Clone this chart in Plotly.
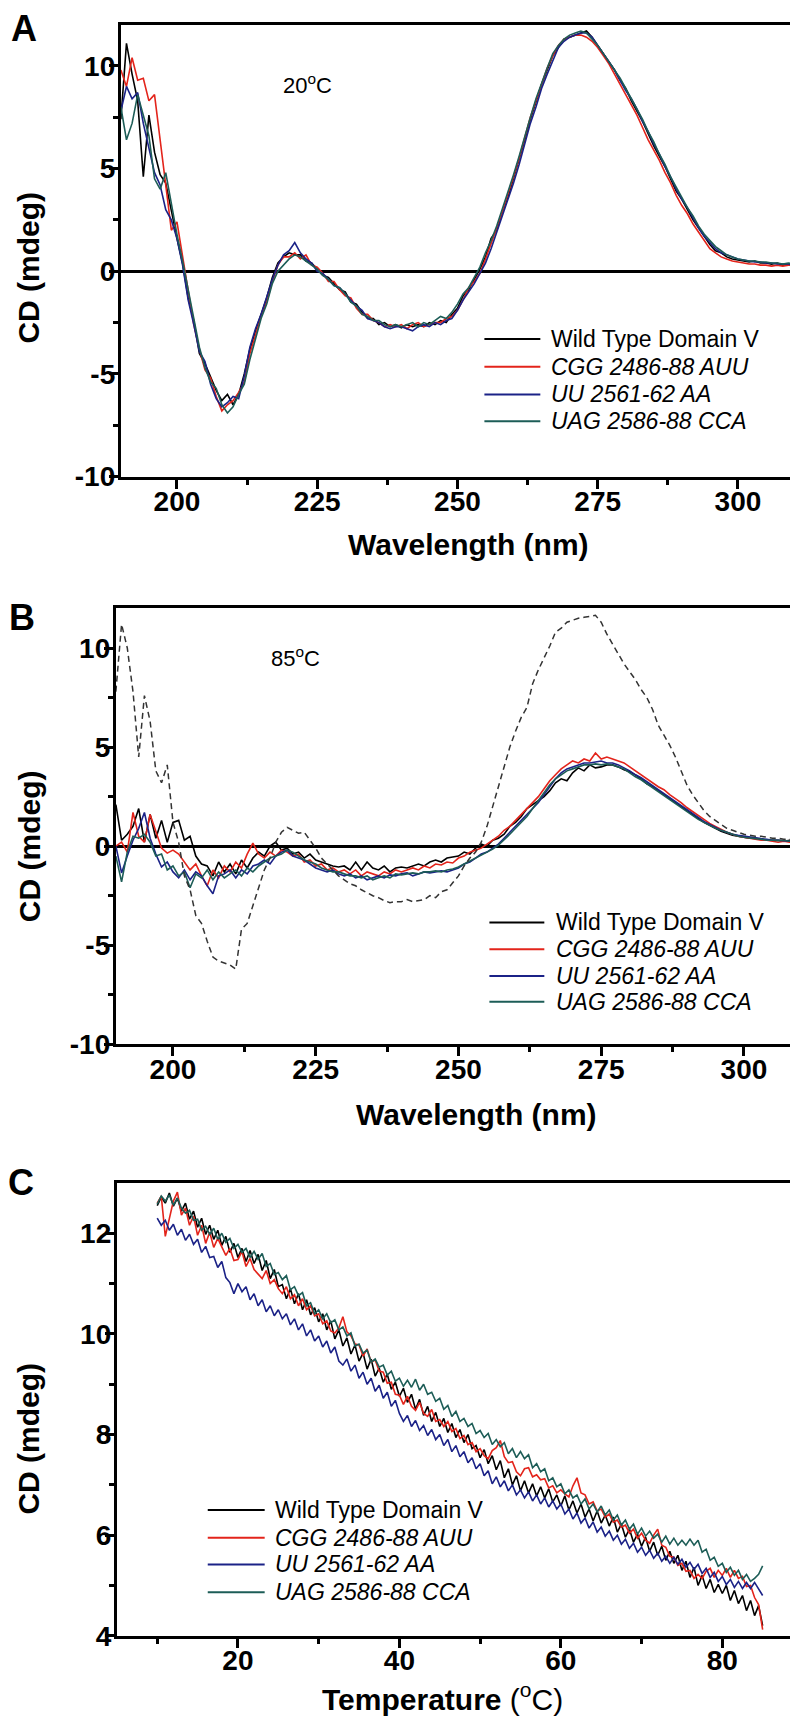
import plotly.graph_objects as go

# ---------------- DATA ----------------
wavelength = list(range(190, 311))          # nm, panels A and B
temperature = [10 + 0.5 * i for i in range(151)]  # degC grid, panel C

names = ["Wild Type Domain V", "<i>CGG 2486-88 AUU</i>", "<i>UU 2561-62 AA</i>", "<i>UAG 2586-88 CCA</i>"]
colors = ["#000000", "#e3241b", "#1b2287", "#1d5d57"]

wl_ticks = [200, 225, 250, 275, 300]
wl_minor = [212.5, 237.5, 262.5, 287.5]
cd_ticks = [-10, -5, 0, 5, 10]
cd_ticktext = ["-10", "-5", "0", "5", "10"]
cd_minor = [-7.5, -2.5, 2.5, 7.5]
t_ticks = [20, 40, 60, 80]
t_minor = [10, 30, 50, 70]
c_ticks = [4, 6, 8, 10, 12]
c_minor = [5, 7, 9, 11]

# Panel A (20 C)
a_wt = [7.4, 11.1, 9.6, 8.3, 4.6, 7.6, 5.8, 4.7, 4.3, 2.9,
        1.6, 0.4, -1.3, -2.4, -4.0, -4.5, -5.2, -5.8, -6.3, -6.0,
        -6.5, -6.0, -5.0, -3.8, -2.9, -2.1, -1.3, -0.3, 0.4, 0.7,
        0.9, 0.8, 0.8, 0.5, 0.4, 0.1, -0.2, -0.3, -0.6, -0.9,
        -1.0, -1.5, -1.6, -2.0, -2.3, -2.3, -2.6, -2.5, -2.7, -2.6,
        -2.75, -2.6, -2.7, -2.6, -2.7, -2.5, -2.6, -2.4, -2.5, -2.1,
        -1.8, -1.2, -0.9, -0.4, 0.1, 0.7, 1.6, 2.0, 2.9, 3.6,
        4.5, 5.4, 6.4, 7.4, 8.3, 9.1, 9.8, 10.5, 10.9, 11.3,
        11.4, 11.5, 11.6, 11.7, 11.4, 11.0, 10.6, 10.2, 9.8, 9.3,
        8.9, 8.3, 7.8, 7.3, 6.7, 6.1, 5.6, 5.1, 4.5, 3.9,
        3.5, 3.0, 2.5, 2.1, 1.7, 1.3, 1.0, 0.9, 0.7, 0.6,
        0.55, 0.5, 0.45, 0.5, 0.4, 0.4, 0.35, 0.4, 0.3, 0.3, 0.3]
a_cgg = [9.8, 9.0, 10.4, 9.3, 9.4, 8.3, 8.6, 6.4, 4.1, 2.0,
         2.4, 0.8, -0.8, -2.6, -3.8, -4.8, -5.2, -6.1, -6.8, -6.5,
         -6.3, -5.9, -5.4, -4.0, -3.1, -2.2, -1.5, -0.5, 0.3, 0.7,
         0.7, 0.9, 0.6, 0.8, 0.3, 0.2, -0.1, -0.5, -0.5, -0.9,
         -1.2, -1.3, -1.8, -2.1, -2.1, -2.4, -2.5, -2.7, -2.6, -2.7,
         -2.6, -2.8, -2.6, -2.5, -2.7, -2.6, -2.5, -2.5, -2.3, -2.2,
         -1.9, -1.4, -0.8, -0.5, -0.1, 0.6, 1.3, 2.1, 2.9, 3.7,
         4.6, 5.5, 6.5, 7.5, 8.3, 9.1, 9.9, 10.5, 11.0, 11.3,
         11.4, 11.5, 11.5, 11.4, 11.2, 10.9, 10.5, 10.1, 9.6, 9.1,
         8.6, 8.1, 7.6, 7.0, 6.4, 5.9, 5.4, 4.8, 4.3, 3.7,
         3.2, 2.8, 2.3, 1.9, 1.5, 1.1, 0.9, 0.7, 0.6, 0.5,
         0.45, 0.4, 0.35, 0.35, 0.3, 0.3, 0.25, 0.3, 0.25, 0.3, 0.3]
a_uu = [7.8, 9.0, 8.4, 8.7, 7.2, 6.0, 4.8, 4.2, 3.0, 2.5,
        1.6, 0.3, -1.4, -2.6, -3.9, -4.4, -5.5, -6.2, -6.6, -6.4,
        -6.1, -6.2, -5.1, -3.7, -2.8, -2.1, -1.2, -0.4, 0.3, 0.8,
        1.0, 1.4, 0.9, 0.6, 0.4, 0.0, -0.1, -0.4, -0.7, -0.8,
        -1.1, -1.4, -1.7, -1.9, -2.3, -2.4, -2.5, -2.7, -2.8, -2.7,
        -2.7, -2.8, -2.9, -2.7, -2.6, -2.7, -2.5, -2.6, -2.4, -2.3,
        -1.9, -1.4, -1.0, -0.6, -0.1, 0.4, 1.1, 1.9, 2.6, 3.4,
        4.3, 5.2, 6.2, 7.2, 8.0, 8.9, 9.6, 10.3, 10.9, 11.2,
        11.4, 11.5, 11.6, 11.6, 11.4, 11.0, 10.6, 10.2, 9.8, 9.3,
        8.8, 8.4, 7.9, 7.3, 6.8, 6.2, 5.7, 5.1, 4.6, 4.0,
        3.5, 3.1, 2.6, 2.1, 1.7, 1.4, 1.1, 0.9, 0.8, 0.7,
        0.6, 0.55, 0.5, 0.45, 0.45, 0.4, 0.4, 0.35, 0.35, 0.35, 0.3]
a_uag = [8.0, 6.4, 7.2, 8.6, 7.6, 6.6, 4.5, 4.0, 4.8, 3.2,
         1.8, 0.5, -1.0, -2.3, -3.7, -4.7, -5.4, -5.7, -6.5, -6.9,
         -6.6, -6.0, -5.5, -4.3, -3.3, -2.3, -1.6, -0.6, 0.0, 0.3,
         0.6, 0.8, 0.7, 0.5, 0.3, 0.1, -0.2, -0.4, -0.7, -0.8,
         -1.1, -1.5, -1.7, -2.1, -2.2, -2.4, -2.4, -2.6, -2.7, -2.6,
         -2.7, -2.6, -2.5, -2.7, -2.5, -2.6, -2.4, -2.2, -2.3, -2.0,
         -1.6, -1.1, -0.8, -0.3, 0.2, 0.9, 1.5, 2.2, 3.0, 3.8,
         4.7, 5.6, 6.6, 7.5, 8.4, 9.2, 9.9, 10.6, 11.0, 11.3,
         11.5, 11.6, 11.7, 11.6, 11.3, 11.0, 10.6, 10.2, 9.8, 9.4,
         8.9, 8.4, 7.9, 7.4, 6.8, 6.3, 5.7, 5.2, 4.6, 4.1,
         3.6, 3.1, 2.7, 2.2, 1.8, 1.5, 1.2, 1.0, 0.8, 0.7,
         0.6, 0.55, 0.5, 0.5, 0.45, 0.45, 0.4, 0.4, 0.35, 0.4, 0.35]

# Panel B (85 C) + dashed wild type at 20 C
b_wt = [2.1, 0.3, 0.6, 1.0, 1.9, 0.2, 1.6, 0.4, 1.3, 0.2,
        1.2, 1.3, 0.3, 0.5, -0.5, -0.9, -1.0, -1.5, -0.8, -1.3,
        -0.9, -1.4, -0.7, -1.1, -0.6, -0.3, -0.5, 0.0, 0.2, -0.2,
        -0.1, -0.4, -0.3, -0.6, -0.4, -0.7, -0.8, -0.9, -1.0, -1.05,
        -1.0, -1.2, -0.8, -1.2, -0.8, -1.1, -1.2, -1.0, -1.3, -1.1,
        -1.05, -1.1, -1.0, -0.9, -1.0, -0.8, -0.7, -0.8, -0.6, -0.55,
        -0.5, -0.3, -0.4, -0.1, 0.1, 0.0, 0.3, 0.4, 0.6, 1.0,
        1.2, 1.5, 1.9, 2.1, 2.3, 2.5, 2.8, 3.2, 3.4, 3.3,
        3.7, 3.95, 3.8, 4.1, 3.95, 4.0, 4.1, 4.1, 4.0, 3.85,
        3.75, 3.6, 3.4, 3.15, 3.0, 2.8, 2.6, 2.4, 2.2, 2.0,
        1.8, 1.6, 1.4, 1.2, 1.05, 0.9, 0.75, 0.65, 0.55, 0.5,
        0.45, 0.4, 0.4, 0.35, 0.3, 0.3, 0.3, 0.25, 0.3, 0.25, 0.25]
b_cgg = [0.0, 0.2, -0.3, 1.7, 0.5, 0.2, 1.6, 0.8, -0.1, -0.35,
         -0.2, -0.4, -0.8, -1.2, -0.9, -1.5, -2.0, -1.2, -1.6, -1.0,
         -1.3, -0.8, -1.1, -0.4, 0.15, -0.4, -0.6, -0.3, -0.5, -0.2,
         -0.3, -0.5, -0.4, -0.8, -0.7, -1.0, -0.9, -1.2, -1.1, -1.3,
         -1.2, -1.4, -1.2, -1.5, -1.3, -1.4, -1.5, -1.3, -1.4, -1.2,
         -1.3, -1.2, -1.1, -1.2, -1.0, -1.1, -0.9, -0.95, -0.8, -0.85,
         -0.6, -0.5, -0.3, -0.2, -0.1, 0.1, 0.3, 0.5, 0.8, 1.0,
         1.3, 1.6, 1.9, 2.2, 2.5, 2.9, 3.3, 3.6, 3.9, 4.1,
         4.3, 4.2, 4.4, 4.3, 4.7, 4.4, 4.5, 4.4, 4.3, 4.2,
         4.0, 3.8, 3.6, 3.4, 3.2, 3.0, 2.85, 2.6, 2.4, 2.2,
         1.95, 1.75, 1.55, 1.35, 1.15, 1.0, 0.85, 0.7, 0.6, 0.5,
         0.45, 0.4, 0.35, 0.3, 0.3, 0.25, 0.2, 0.25, 0.2, 0.2, 0.2]
b_uu = [0.0, -1.35, -0.5, 0.3, 0.9, 1.7, 0.4, -0.4, -1.05, -0.8,
        -1.3, -1.6, -1.2, -1.7, -1.3, -1.5, -2.0, -2.4, -1.5, -1.4,
        -1.2, -1.6, -1.2, -1.4, -1.0, -0.9, -0.7, -0.9, -0.5, -0.3,
        -0.2, -0.5, -0.6, -0.7, -0.9, -1.1, -1.2, -1.3, -1.2, -1.4,
        -1.5, -1.4, -1.6, -1.5, -1.7, -1.6, -1.5, -1.6, -1.45, -1.5,
        -1.4, -1.35, -1.5, -1.4, -1.3, -1.35, -1.3, -1.25, -1.3, -1.2,
        -1.1, -0.9, -0.8, -0.6, -0.4, -0.3, -0.1, 0.1, 0.4, 0.7,
        1.0, 1.3, 1.6, 1.9, 2.2, 2.6, 3.0, 3.4, 3.7, 3.9,
        4.0, 4.1, 4.2, 4.2, 4.25, 4.3, 4.2, 4.2, 4.1, 3.95,
        3.8, 3.6, 3.45, 3.25, 3.05, 2.85, 2.65, 2.45, 2.25, 2.05,
        1.85, 1.65, 1.45, 1.25, 1.1, 0.95, 0.8, 0.7, 0.6, 0.55,
        0.5, 0.45, 0.4, 0.38, 0.35, 0.3, 0.3, 0.28, 0.25, 0.25, 0.2]
b_uag = [-0.5, -1.8, -0.3, 0.5, 0.4, 0.6, 0.2, -0.5, -0.4, -1.2,
         -1.0, -1.5, -1.3, -2.1, -1.4, -1.6, -1.2, -1.7, -1.3, -1.6,
         -1.4, -1.2, -1.5, -1.1, -1.3, -1.0, -0.8, -0.6, -0.5, -0.4,
         -0.2, -0.3, -0.5, -0.7, -0.8, -0.9, -1.1, -1.2, -1.3, -1.3,
         -1.4, -1.5, -1.5, -1.6, -1.5, -1.7, -1.6, -1.5, -1.6, -1.4,
         -1.45, -1.4, -1.35, -1.4, -1.3, -1.3, -1.25, -1.3, -1.2, -1.15,
         -1.05, -0.9, -0.75, -0.6, -0.45, -0.3, -0.15, 0.05, 0.3, 0.6,
         0.9, 1.2, 1.5, 1.9, 2.3, 2.7, 3.1, 3.4, 3.6, 3.8,
         3.9, 4.0, 4.1, 4.1, 4.15, 4.1, 4.15, 4.1, 4.0, 3.9,
         3.7, 3.5, 3.35, 3.15, 2.95, 2.75, 2.55, 2.35, 2.15, 1.95,
         1.75, 1.55, 1.35, 1.2, 1.05, 0.9, 0.8, 0.7, 0.6, 0.5,
         0.45, 0.4, 0.38, 0.35, 0.3, 0.3, 0.28, 0.3, 0.25, 0.3, 0.25]
b_wt_20c = [7.8, 11.2, 10.0, 7.8, 4.5, 7.6, 6.3, 3.8, 3.2, 4.1,
            1.2, 0.2, -1.5, -2.2, -3.5, -3.9, -4.8, -5.6, -5.8, -5.9,
            -6.0, -6.2, -4.2, -3.9, -3.0, -2.0, -1.2, -0.6, 0.2, 0.7,
            0.95, 0.8, 0.65, 0.7, 0.3, -0.1, -0.6, -0.9, -1.2, -1.5,
            -1.7, -1.9, -2.0, -2.2, -2.35, -2.5, -2.6, -2.75, -2.85, -2.8,
            -2.8, -2.7, -2.8, -2.75, -2.7, -2.5, -2.6, -2.3, -2.2, -1.85,
            -1.5, -1.0, -0.6, -0.3, 0.2, 1.0, 2.0, 2.9, 3.9, 5.0,
            5.8, 6.5, 7.0, 8.2, 8.9, 9.5, 10.1, 10.8, 11.0, 11.3,
            11.4, 11.5, 11.55, 11.6, 11.65, 11.3, 10.7, 10.2, 9.7, 9.2,
            8.8, 8.4, 7.9, 7.5, 6.9, 6.1, 5.6, 5.1, 4.5, 3.8,
            3.1, 2.6, 2.2, 1.8, 1.5, 1.3, 1.1, 0.9, 0.8, 0.7,
            0.6, 0.55, 0.5, 0.5, 0.45, 0.4, 0.4, 0.35, 0.35, 0.3, 0.3]

# Panel C (CD vs temperature)
c_wt = [12.55, 12.72, 12.60, 12.80, 12.54, 12.70, 12.44, 12.60, 12.28, 12.44,
        12.12, 12.30, 11.98, 12.16, 11.88, 12.06, 11.76, 11.94, 11.62, 11.80,
        11.52, 11.70, 11.44, 11.66, 11.40, 11.58, 11.26, 11.46, 11.10, 11.28,
        10.94, 10.98, 10.70, 10.90, 10.60, 10.80, 10.48, 10.68, 10.38, 10.52,
        10.24, 10.40, 10.08, 10.26, 9.90, 10.08, 9.76, 9.92, 9.60, 9.78,
        9.46, 9.62, 9.30, 9.50, 9.16, 9.32, 9.04, 9.20, 8.90, 9.04,
        8.76, 8.92, 8.64, 8.80, 8.50, 8.70, 8.38, 8.56, 8.26, 8.44,
        8.16, 8.32, 8.04, 8.22, 7.94, 8.10, 7.84, 8.00, 7.72, 7.78,
        7.54, 7.70, 7.42, 7.58, 7.30, 7.48, 7.14, 7.32, 7.00, 7.18,
        6.88, 7.08, 6.84, 7.02, 6.78, 6.96, 6.74, 6.92, 6.66, 6.80,
        6.58, 6.78, 6.50, 6.68, 6.44, 6.62, 6.36, 6.52, 6.28, 6.48,
        6.24, 6.40, 6.18, 6.36, 6.06, 6.22, 5.96, 6.12, 5.86, 6.02,
        5.78, 5.96, 5.68, 5.86, 5.60, 5.78, 5.50, 5.68, 5.44, 5.60,
        5.30, 5.48, 5.16, 5.36, 5.00, 5.20, 4.94, 5.12, 4.86, 5.02,
        4.84, 5.00, 4.70, 4.90, 4.64, 4.80, 4.50, 4.70, 4.40, 4.60,
        4.20]
c_cgg = [12.60, 12.74, 11.94, 12.30, 12.64, 12.82, 12.36, 12.50, 12.16, 12.34,
         11.96, 12.16, 11.80, 12.02, 11.72, 11.90, 11.74, 11.56, 11.70, 11.46,
         11.48, 11.64, 11.34, 11.50, 11.28, 11.20, 11.10, 11.26, 11.00, 11.08,
         10.90, 10.80, 10.94, 10.70, 10.78, 10.56, 10.70, 10.48, 10.56, 10.36,
         10.40, 10.20, 10.26, 10.06, 10.02, 10.12, 10.34, 10.04, 9.96, 9.80,
         9.78, 9.56, 9.70, 9.44, 9.48, 9.26, 9.24, 9.02, 9.04, 8.80,
         8.78, 8.60, 8.76, 8.56, 8.48, 8.64, 8.42, 8.36, 8.50, 8.26,
         8.30, 8.16, 8.26, 8.06, 8.12, 7.92, 7.98, 7.80, 7.84, 7.66,
         7.72, 7.58, 7.52, 7.68, 7.74, 7.88, 7.56, 7.44, 7.46, 7.26,
         7.18, 7.32, 7.34, 7.16, 7.20, 7.10, 7.12, 6.94, 6.98, 6.84,
         6.90, 6.82, 6.76, 6.98, 7.14, 6.84, 6.80, 6.62, 6.66, 6.48,
         6.52, 6.36, 6.42, 6.26, 6.30, 6.16, 6.20, 6.04, 6.12, 5.94,
         6.04, 5.90, 5.84, 6.00, 6.12, 5.80, 5.76, 5.58, 5.56, 5.40,
         5.44, 5.28, 5.30, 5.14, 5.22, 5.14, 5.28, 5.34, 5.16, 5.30,
         5.20, 5.34, 5.16, 5.30, 5.14, 5.18, 4.98, 5.00, 4.76, 4.62,
         4.12]
c_uu = [12.30, 12.16, 12.26, 12.06, 12.18, 11.96, 12.08, 11.86, 11.98, 11.78,
        11.88, 11.62, 11.74, 11.52, 11.54, 11.32, 11.44, 11.12, 11.02, 10.80,
        11.00, 10.84, 10.94, 10.68, 10.80, 10.56, 10.68, 10.44, 10.56, 10.36,
        10.48, 10.30, 10.40, 10.18, 10.30, 10.08, 10.20, 9.96, 10.08, 9.86,
        9.96, 9.74, 9.86, 9.62, 9.74, 9.46, 9.38, 9.50, 9.26, 9.38,
        9.12, 9.24, 9.00, 9.12, 8.86, 8.98, 8.72, 8.84, 8.56, 8.68,
        8.42, 8.26, 8.38, 8.16, 8.28, 8.08, 8.18, 7.98, 8.10, 7.90,
        8.00, 7.78, 7.90, 7.66, 7.78, 7.56, 7.66, 7.44, 7.54, 7.32,
        7.42, 7.18, 7.28, 7.02, 7.16, 6.96, 7.08, 6.88, 7.00, 6.80,
        6.90, 6.74, 6.86, 6.68, 6.80, 6.62, 6.74, 6.56, 6.68, 6.52,
        6.62, 6.42, 6.52, 6.32, 6.44, 6.24, 6.34, 6.14, 6.26, 6.06,
        6.16, 5.98, 6.08, 5.90, 6.00, 5.82, 5.92, 5.74, 5.84, 5.66,
        5.76, 5.60, 5.70, 5.54, 5.64, 5.48, 5.58, 5.44, 5.56, 5.42,
        5.52, 5.36, 5.46, 5.32, 5.42, 5.24, 5.34, 5.16, 5.26, 5.08,
        5.18, 5.02, 5.12, 4.96, 5.08, 4.94, 5.06, 4.94, 5.06, 4.92,
        4.80]
c_uag = [12.58, 12.74, 12.64, 12.76, 12.56, 12.70, 12.50, 12.40, 12.46, 12.26,
         12.28, 12.06, 12.14, 11.98, 12.10, 11.88, 12.00, 11.82, 11.90, 11.70,
         11.78, 11.62, 11.70, 11.52, 11.64, 11.48, 11.60, 11.34, 11.40, 11.18,
         11.22, 11.08, 11.16, 10.88, 10.94, 10.76, 10.82, 10.56, 10.62, 10.40,
         10.48, 10.30, 10.40, 10.22, 10.28, 10.08, 10.14, 9.96, 10.02, 9.76,
         9.80, 9.62, 9.68, 9.44, 9.50, 9.34, 9.38, 9.18, 9.26, 9.06,
         9.12, 8.96, 9.08, 8.94, 9.10, 8.88, 9.00, 8.80, 8.84, 8.66,
         8.72, 8.50, 8.58, 8.36, 8.46, 8.26, 8.32, 8.16, 8.22, 8.02,
         8.08, 7.94, 8.02, 7.80, 7.90, 7.76, 7.84, 7.62, 7.72, 7.54,
         7.66, 7.52, 7.60, 7.34, 7.42, 7.26, 7.32, 7.08, 7.14, 6.96,
         7.02, 6.82, 6.90, 6.74, 6.80, 6.62, 6.72, 6.52, 6.62, 6.46,
         6.58, 6.40, 6.50, 6.30, 6.40, 6.20, 6.30, 6.12, 6.22, 6.02,
         6.14, 5.98, 6.08, 5.94, 6.02, 5.86, 5.98, 5.82, 5.94, 5.80,
         5.90, 5.80, 5.92, 5.80, 5.90, 5.66, 5.72, 5.50, 5.56, 5.38,
         5.44, 5.26, 5.36, 5.20, 5.30, 5.12, 5.22, 5.08, 5.14, 5.22,
         5.39]

for s in (a_wt, a_cgg, a_uu, a_uag, b_wt, b_cgg, b_uu, b_uag, b_wt_20c):
    assert len(s) == len(wavelength), len(s)
for s in (c_wt, c_cgg, c_uu, c_uag):
    assert len(s) == len(temperature), len(s)

# ---------------- FIGURE ----------------
W, H = 798, 1725
def px(x):
    return x / W
def py(y):
    return 1 - y / H

FONT = "Liberation Sans, Arial, sans-serif"
fig = go.Figure()

panels = [
    ("x", "y", [a_wt, a_cgg, a_uu, a_uag], wavelength),
    ("x2", "y2", [b_wt, b_cgg, b_uu, b_uag], wavelength),
    ("x3", "y3", [c_wt, c_cgg, c_uu, c_uag], temperature),
]
for xa, ya, series, xs in panels:
    for name, col, vals in zip(names, colors, series):
        fig.add_trace(go.Scatter(x=xs, y=vals, mode="lines", name=name,
                                 line=dict(color=col, width=1.6),
                                 xaxis=xa, yaxis=ya, showlegend=False))
    if xa == "x2":
        fig.add_trace(go.Scatter(x=wavelength, y=b_wt_20c, mode="lines",
                                 name="Wild Type Domain V, 20 C",
                                 line=dict(color="#333333", width=1.5, dash="6px,4px"),
                                 xaxis="x2", yaxis="y2", showlegend=False))

tickfont = dict(family=FONT, size=28, color="black", weight="bold")
base = dict(showline=True, linecolor="black", linewidth=3, mirror=True,
            ticks="outside", ticklen=9, tickwidth=2.5, tickcolor="black",
            showgrid=False, zeroline=False, tickfont=tickfont)

def minor(vals):
    return dict(tickmode="array", tickvals=vals, ticks="outside", ticklen=5,
                tickwidth=2.5, tickcolor="black", showgrid=False)

XSTAND = -11
YSTAND = -12
fig.update_layout(
    width=W, height=H, margin=dict(l=0, r=0, t=0, b=0),
    paper_bgcolor="white", plot_bgcolor="white", showlegend=False,
    xaxis=dict(base, domain=[px(113), px(787)], range=[190, 310], anchor="y",
               tickmode="array", tickvals=wl_ticks, minor=minor(wl_minor),
               ticklabelstandoff=XSTAND),
    yaxis=dict(base, domain=[py(473), py(17)], range=[-10, 12], anchor="x",
               tickmode="array", tickvals=cd_ticks, ticktext=cd_ticktext,
               minor=minor(cd_minor),
               zeroline=True, zerolinecolor="black", zerolinewidth=2.5,
               ticklabelstandoff=YSTAND),
    xaxis2=dict(base, domain=[px(108), px(794)], range=[190, 310], anchor="y2",
                tickmode="array", tickvals=wl_ticks, minor=minor(wl_minor),
                ticklabelstandoff=XSTAND),
    yaxis2=dict(base, domain=[py(1046), py(606)], range=[-10, 12], anchor="x2",
                tickmode="array", tickvals=cd_ticks, ticktext=cd_ticktext,
                minor=minor(cd_minor),
                zeroline=True, zerolinecolor="black", zerolinewidth=2.5,
                ticklabelstandoff=YSTAND),
    xaxis3=dict(base, domain=[px(109), px(796)], range=[5, 90], anchor="y3",
                tickmode="array", tickvals=t_ticks, minor=minor(t_minor),
                ticklabelstandoff=XSTAND),
    yaxis3=dict(base, domain=[py(1643), py(1186)], range=[4, 13], anchor="x3",
                tickmode="array", tickvals=c_ticks, minor=minor(c_minor),
                ticklabelstandoff=YSTAND),
)

ann = []
shapes = []
def add_text(text, x, y, size, angle=0, bold=False, xanchor="center"):
    ann.append(dict(text=text, x=px(x), y=py(y), xref="paper", yref="paper",
                    xanchor=xanchor, yanchor="middle", showarrow=False,
                    textangle=angle,
                    font=dict(family=FONT, size=size, color="black",
                              weight="bold" if bold else "normal")))

# key boxes (line sample + label), one per panel
def add_key(x_line0, x_line1, x_text, rows):
    for name, col, yrow in zip(names, colors, rows):
        shapes.append(dict(type="line", xref="paper", yref="paper",
                           x0=px(x_line0), x1=px(x_line1), y0=py(yrow), y1=py(yrow),
                           line=dict(color=col, width=2)))
        add_text(name, x_text, yrow, 23, xanchor="left")

add_key(477, 533, 542, [334, 362, 390, 417])
add_key(482, 537, 547, [923, 950, 977, 1003])
add_key(200, 257, 265, [1516, 1544, 1571, 1599])

add_text("A", 16, 21, 36, bold=True)
add_text("B", 14, 615, 36, bold=True)
add_text("C", 13, 1185, 36, bold=True)
add_text("20<sup>o</sup>C", 300, 77, 22)
add_text("85<sup>o</sup>C", 288, 655, 22)
add_text("<b>Wavelength (nm)</b>", 461, 542, 30)
add_text("<b>Wavelength (nm)</b>", 469, 1117, 30)
add_text("<b>Temperature</b> (<sup>o</sup>C)", 435, 1705, 30)
add_text("<b>CD (mdeg)</b>", 21, 262, 30, angle=-90)
add_text("<b>CD (mdeg)</b>", 21, 846, 30, angle=-90)
add_text("<b>CD (mdeg)</b>", 21, 1444, 30, angle=-90)
fig.update_layout(annotations=ann, shapes=shapes)

fig.write_html("out.html", config={"displayModeBar": False})
